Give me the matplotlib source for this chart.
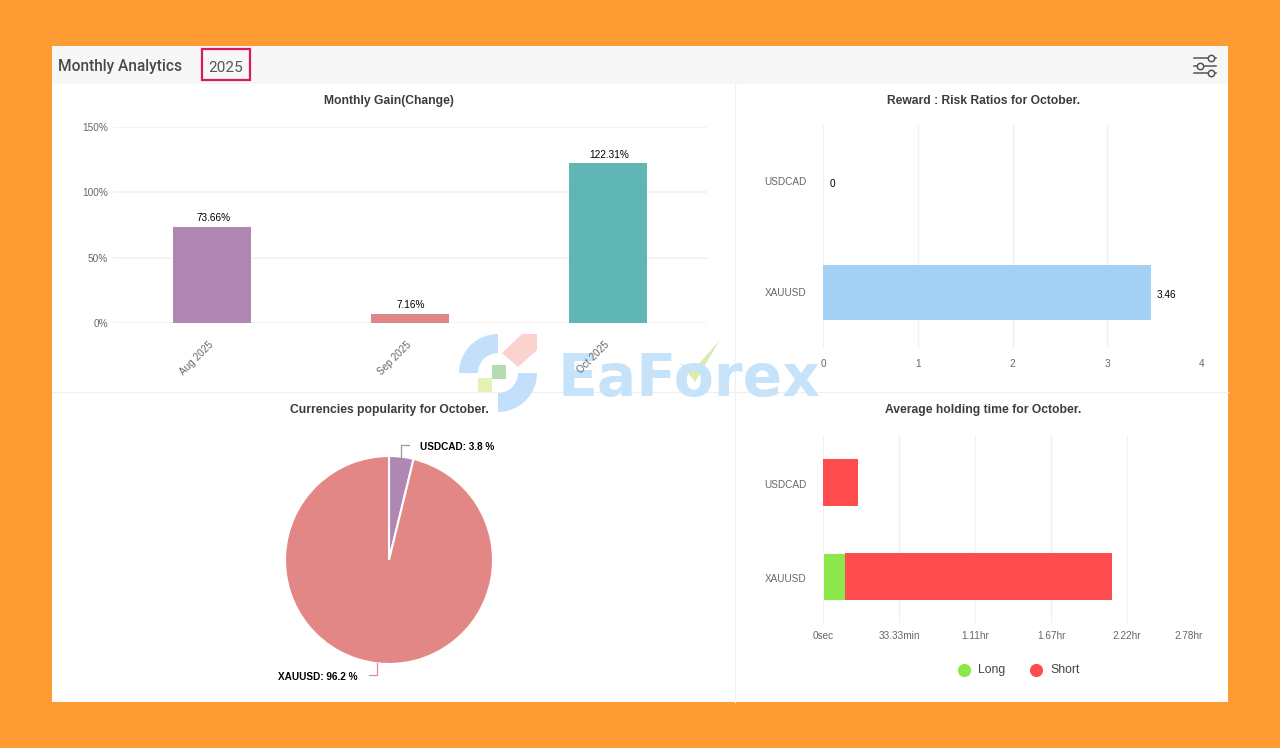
import matplotlib
matplotlib.use("Agg")
import matplotlib.pyplot as plt
from matplotlib.patches import Rectangle, Polygon, Wedge
from matplotlib.transforms import ScaledTranslation
import numpy as np

W, H = 1280, 748

months = ["Aug 2025", "Sep 2025", "Oct 2025"]
gains = [73.66, 7.16, 122.31]
gain_labels = ["73.66%", "7.16%", "122.31%"]
gain_colors = ["#b086b3", "#e08686", "#5fb6b4"]
gain_ticks = [0, 50, 100, 150]

symbols = ["XAUUSD", "USDCAD"]
rr_values = [3.46, 0]
rr_ticks = [0, 1, 2, 3, 4]

pie_names = ["USDCAD", "XAUUSD"]
pie_values = [3.8, 96.2]
pie_colors = ["#b086b3", "#e28686"]

hold_long = [580, 0]
hold_short = [7026, 921]
hold_ticks = [0, 2000, 4000, 6000, 8000, 10000]
hold_labels = ["0sec", "33.33min", "1.11hr", "1.67hr", "2.22hr", "2.78hr"]

GRID = "#f1f1f1"
TICK = "#666666"
SANS = "Liberation Sans"

plt.rcParams["font.family"] = SANS


def px_axes(fig, left, top, right, bottom, **kw):
    # axes placed from reference pixel coords
    return fig.add_axes([left / W, 1 - bottom / H, (right - left) / W, (bottom - top) / H], **kw)


def clean(ax):
    for s in ax.spines.values():
        s.set_visible(False)
    ax.set_axisbelow(True)
    ax.patch.set_alpha(0)


fig = plt.figure(figsize=(W / 100, H / 100), dpi=100, facecolor="#ff9b33")

# page furniture
bg = fig.add_axes([0, 0, 1, 1], zorder=0)
bg.set_xlim(0, W)
bg.set_ylim(H, 0)
bg.axis("off")
bg.add_patch(Rectangle((52, 46), 1176, 656, fc="white", ec="none"))
bg.add_patch(Rectangle((52, 46), 1176, 38, fc="#f7f7f7", ec="none"))
bg.plot([735, 735], [84, 702], color="#f0f0f0", lw=1)
bg.plot([52, 1228], [392, 392], color="#f0f0f0", lw=1)
bg.text(58, 66, "Monthly Analytics", family="Roboto", fontsize=11.2, fontweight="medium",
        color="#4a4a4a", va="center")
bg.add_patch(Rectangle((201.5, 48.5), 48, 31, fc="none", ec="#dc1a5a", lw=1.6))
bg.text(225.5, 67.5, "2025", family="Roboto", fontsize=11, color="#555555", va="center", ha="center")

# filter icon
for y, cx in [(58, 1211), (66, 1200), (73, 1211)]:
    bg.plot([1194, 1216], [y, y], color="#555555", lw=1.1)
    bg.plot([cx], [y], "o", ms=4.6, mfc="#f7f7f7", mec="#555555", mew=1.1)

for x, y, t in [(389, 100.5, "Monthly Gain(Change)"),
                (983.5, 100.5, "Reward : Risk Ratios for October."),
                (389, 409.5, "Currencies popularity for October."),
                (983.5, 409.5, "Average holding time for October.")]:
    bg.text(x, y, t, fontsize=8.7, fontweight="bold", color="#3c3c3c", ha="center", va="center")

# watermark, the chart text stays readable on top of it
wm = fig.add_axes([0, 0, 1, 1], zorder=0.5)
wm.set_xlim(0, W)
wm.set_ylim(H, 0)
wm.axis("off")
wm.patch.set_alpha(0)
wm.add_patch(Wedge((498, 373), 39, 180, 270, width=19, fc="#c2e0fb", ec="none"))
wm.add_patch(Wedge((498, 373), 39, 0, 90, width=19, fc="#c2e0fb", ec="none"))
wm.add_patch(Polygon([(502, 353), (522, 334), (537, 334), (537, 350), (518, 367)], fc="#fbd2ce", ec="none"))
wm.add_patch(Rectangle((492, 365), 14, 14, fc="#b4dcb0", ec="none"))
wm.add_patch(Rectangle((478, 378), 14, 14, fc="#e4f3b4", ec="none"))
wm.text(689, 396, "EaForex", family="DejaVu Sans", fontsize=42, fontweight="bold", color="#c6e3fa",
        ha="center", va="baseline")
wm.add_patch(Polygon([(680, 363), (693, 370), (720, 340), (695, 382)], fc="#dcebb4", ec="none"))

# monthly gain
ax = px_axes(fig, 113, 127, 707, 323, zorder=1)
clean(ax)
ax.bar(range(3), gains, width=0.39, color=gain_colors)
ax.set_xlim(-0.5, 2.5)
ax.set_ylim(0, 150)
ax.set_yticks(gain_ticks)
ax.set_yticklabels([f"{v}%" for v in gain_ticks], fontsize=7.2, color=TICK)
ax.yaxis.grid(True, color=GRID, lw=1.2)
ax.tick_params(axis="y", length=0, pad=3.5)
ax.set_xticks(range(3))
ax.set_xticklabels(months, rotation=45, ha="right", rotation_mode="anchor", fontsize=7.2, color=TICK)
ax.tick_params(axis="x", length=0, pad=12)
for lab in ax.get_xticklabels():
    lab.set_transform(lab.get_transform() + ScaledTranslation(-4 / 100, 0, fig.dpi_scale_trans))
for i, (v, lab) in enumerate(zip(gains, gain_labels)):
    ax.annotate(lab, (i, v), xytext=(0.8, 2.5), textcoords="offset points", ha="center", va="bottom",
                fontsize=7.2, color="black")

# reward : risk
ax = px_axes(fig, 823, 125, 1202, 348, zorder=1)
clean(ax)
ax.barh(range(2), rr_values, height=0.49, color="#a3d0f5")
ax.set_xlim(0, 4)
ax.set_ylim(-0.5, 1.5)
ax.set_yticks(range(2))
ax.set_yticklabels(symbols, fontsize=7.2, color=TICK)
ax.set_xticks(rr_ticks)
ax.set_xticklabels(rr_ticks, fontsize=7.2, color=TICK)
ax.xaxis.grid(True, color=GRID, lw=1)
ax.tick_params(axis="y", length=0, pad=12)
ax.tick_params(axis="x", length=0, pad=8)
for i, v in enumerate(rr_values):
    ax.annotate(str(v), (v, i), xytext=(4.5, -2), textcoords="offset points", va="center",
                fontsize=7.2, color="black")

# currencies pie
ax = px_axes(fig, 285, 456, 493, 664, zorder=1)
ax.pie(pie_values, colors=pie_colors, radius=1, startangle=90, counterclock=False,
       wedgeprops={"edgecolor": "white", "linewidth": 1.5})
ax.set_xlim(-1, 1)
ax.set_ylim(-1, 1)
start = 0
for name, v in zip(pie_names, pie_values):
    mid = np.deg2rad((start + v / 2) * 3.6)
    start += v
    x, y = np.sin(mid), np.cos(mid)
    side = 1 if x > 0 else -1
    up = 1 if y > 0 else -1
    ax.plot([x, x, x + side * 0.07], [y, y + up * 0.11, y + up * 0.11],
            color="#e08a98" if side < 0 else "#999999", lw=0.9, clip_on=False)
    ax.text(x + side * 0.18, y + up * 0.11 - 0.02, f"{name}: {v} %", fontsize=7.2, fontweight="bold",
            color="black", ha="left" if side > 0 else "right", va="center", clip_on=False)

# holding time
ax = px_axes(fig, 823, 435, 1203, 623, zorder=1)
clean(ax)
ax.barh(range(2), hold_long, height=0.5, color="#8ce84a", edgecolor="white", linewidth=0.6)
ax.barh(range(2), hold_short, left=hold_long, height=0.5, color="#ff4d4f")
ax.set_xlim(0, 10000)
ax.set_ylim(-0.5, 1.5)
ax.set_yticks(range(2))
ax.set_yticklabels(symbols, fontsize=7.2, color=TICK)
ax.set_xticks(hold_ticks)
ax.set_xticklabels(hold_labels, fontsize=7.2, color=TICK)
ax.xaxis.grid(True, color=GRID, lw=1)
ax.tick_params(axis="y", length=0, pad=12)
ax.tick_params(axis="x", length=0, pad=6)
ax.get_xticklabels()[-1].set_ha("right")
# after tick_params, it resets the label transforms
for lab in ax.get_yticklabels():
    lab.set_transform(lab.get_transform() + ScaledTranslation(0, -2.5 / 100, fig.dpi_scale_trans))

bg.plot([964], [670], "o", ms=9.5, color="#8ce84a", mew=0)
bg.text(978, 670, "Long", fontsize=8.8, color="#444444", va="center")
bg.plot([1036], [670], "o", ms=9.5, color="#ff4d4f", mew=0)
bg.text(1050, 670, "Short", fontsize=8.8, color="#444444", va="center")

fig.savefig("out.png", dpi=100, facecolor=fig.get_facecolor())
